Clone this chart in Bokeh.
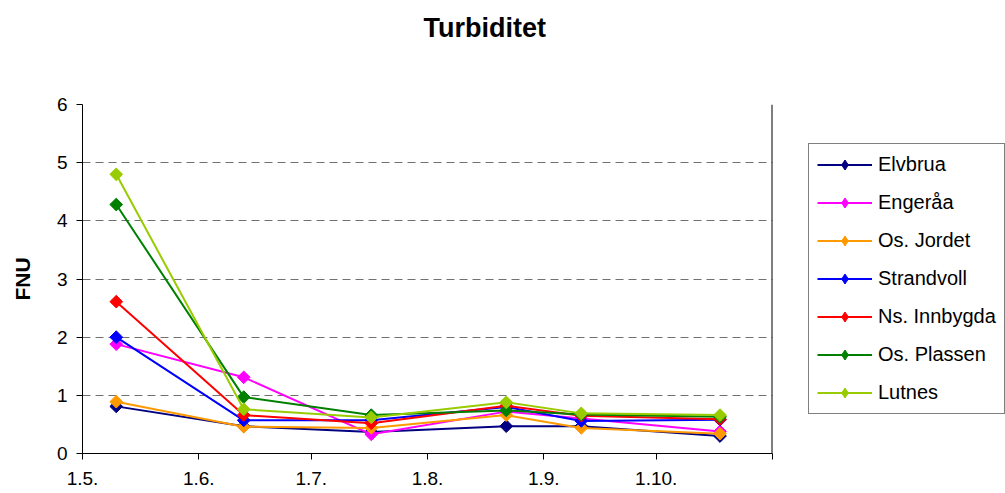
import math
import pandas as pd
from bokeh.plotting import figure
from bokeh.layouts import row
from bokeh.models import (ColumnDataSource, FixedTicker, Range1d, Legend,
                          LegendItem, Title, Span)
from bokeh.embed import file_html
from bokeh.resources import INLINE

# ---- data ----
dates = ["2008-05-10", "2008-06-13", "2008-07-17", "2008-08-22", "2008-09-11", "2008-10-18"]
tick_dates = ["2008-05-01", "2008-06-01", "2008-07-01", "2008-08-01",
              "2008-09-01", "2008-10-01", "2008-11-01"]
tick_labels = ["1.5.", "1.6.", "1.7.", "1.8.", "1.9.", "1.10.", ""]
y_ticks = [0, 1, 2, 3, 4, 5, 6]

series_names = ["Elvbrua", "Engeråa", "Os. Jordet", "Strandvoll",
                "Ns. Innbygda", "Os. Plassen", "Lutnes"]
elvbrua = [0.81, 0.47, 0.37, 0.47, 0.47, 0.30]
engeraa = [1.88, 1.31, 0.33, 0.72, 0.60, 0.38]
os_jordet = [0.89, 0.46, 0.44, 0.66, 0.44, 0.34]
strandvoll = [2.00, 0.57, 0.57, 0.80, 0.56, 0.58]
ns_innbygda = [2.61, 0.66, 0.52, 0.82, 0.65, 0.59]
os_plassen = [4.28, 0.97, 0.66, 0.74, 0.67, 0.63]
lutnes = [4.80, 0.76, 0.62, 0.88, 0.69, 0.66]
series_values = [elvbrua, engeraa, os_jordet, strandvoll, ns_innbygda, os_plassen, lutnes]

colors = ["#000080", "#FF00FF", "#FF9900", "#0000FF", "#FF0000", "#008000", "#99CC00"]

FONT = "Liberation Sans"

x_dt = pd.to_datetime(dates)
tick_dt = pd.to_datetime(tick_dates)
tick_ms = [float(t.value // 10**6) for t in tick_dt]

# ---------------- main chart ----------------
p = figure(width=808, height=493, output_backend="svg", toolbar_location=None,
           x_axis_type="datetime",
           x_range=Range1d(tick_dt[0], tick_dt[-1]),
           y_range=Range1d(0, 6),
           min_border_left=82, min_border_right=36,
           min_border_top=104, min_border_bottom=40)

p.background_fill_color = "white"
p.border_fill_color = "white"
p.outline_line_color = None

# built-in title left empty; spacer + real title stacked above
p.title.text = ""
p.title.standoff = 0
spacer = Title(text=" ", text_font=FONT, text_font_size="54px", standoff=0)
p.add_layout(spacer, "above")
main_title = Title(text="Turbiditet", text_font=FONT, text_font_size="27px",
                   text_font_style="bold", text_color="black",
                   align="left", offset=341, standoff=0)
p.add_layout(main_title, "above")

# x axis
xa = p.xaxis[0]
xa.ticker = FixedTicker(ticks=tick_ms)
xa.major_label_overrides = {t: lab for t, lab in zip(tick_ms, tick_labels)}
xa.major_label_text_font = FONT
xa.major_label_text_font_size = "19px"
xa.major_label_text_color = "black"
xa.major_tick_in = 0
xa.major_tick_out = 6
xa.minor_tick_line_color = None
xa.axis_line_color = "black"
xa.major_tick_line_color = "black"
xa.major_label_standoff = 12

# y axis
ya = p.yaxis[0]
ya.ticker = FixedTicker(ticks=y_ticks)
ya.major_label_text_font = FONT
ya.major_label_text_font_size = "19px"
ya.major_label_text_color = "black"
ya.major_tick_in = 0
ya.major_tick_out = 6
ya.minor_tick_line_color = None
ya.axis_line_color = "black"
ya.major_tick_line_color = "black"
ya.major_label_standoff = 9
ya.axis_label = "FNU"
ya.axis_label_text_font = FONT
ya.axis_label_text_font_size = "21px"
ya.axis_label_text_font_style = "bold"
ya.axis_label_text_color = "black"
ya.axis_label_standoff = 20

# right border of the plot area, at the end of the x range
p.add_layout(Span(location=tick_ms[-1], dimension="height",
                  line_color="black", line_width=2))

p.xgrid.grid_line_color = None
p.ygrid.ticker = FixedTicker(ticks=y_ticks)
p.ygrid.grid_line_color = "#707070"
p.ygrid.grid_line_dash = "8 5"
p.ygrid.grid_line_width = 1

for name, vals, col in zip(series_names, series_values, colors):
    src = ColumnDataSource(dict(x=x_dt, y=vals))
    p.line("x", "y", source=src, line_color=col, line_width=2)
    p.scatter("x", "y", source=src, marker="square", angle=math.pi / 4,
              size=9, fill_color=col, line_color=col)

# ---------------- legend panel ----------------
lg = figure(width=197, height=493, output_backend="svg", toolbar_location=None,
            x_range=Range1d(0, 1), y_range=Range1d(0, 1),
            x_axis_location=None, y_axis_location=None,
            min_border_left=0, min_border_right=0,
            min_border_top=0, min_border_bottom=0)
lg.title.text = ""
lg.title.standoff = 0
lg.outline_line_color = None
lg.xgrid.visible = False
lg.ygrid.visible = False

items = []
for name, col in zip(series_names, colors):
    ksrc = ColumnDataSource(dict(x=[float("nan")], y=[float("nan")]))
    kl = lg.line("x", "y", source=ksrc, line_color=col, line_width=2)
    km = lg.scatter("x", "y", source=ksrc, marker="diamond", size=10,
                    fill_color=col, line_color=col)
    items.append(LegendItem(label=name, renderers=[kl, km]))

legend = Legend(items=items, location=(0, 39), margin=0, padding=8,
                spacing=13, glyph_width=55, glyph_height=25, label_height=23,
                label_standoff=6, label_text_font=FONT, label_text_font_size="20px",
                label_text_color="black",
                border_line_color="black", border_line_width=1,
                background_fill_color="white", background_fill_alpha=1.0)
lg.add_layout(legend, "center")

layout = row(p, lg, spacing=0)
open("out.html", "w").write(file_html(layout, INLINE))
